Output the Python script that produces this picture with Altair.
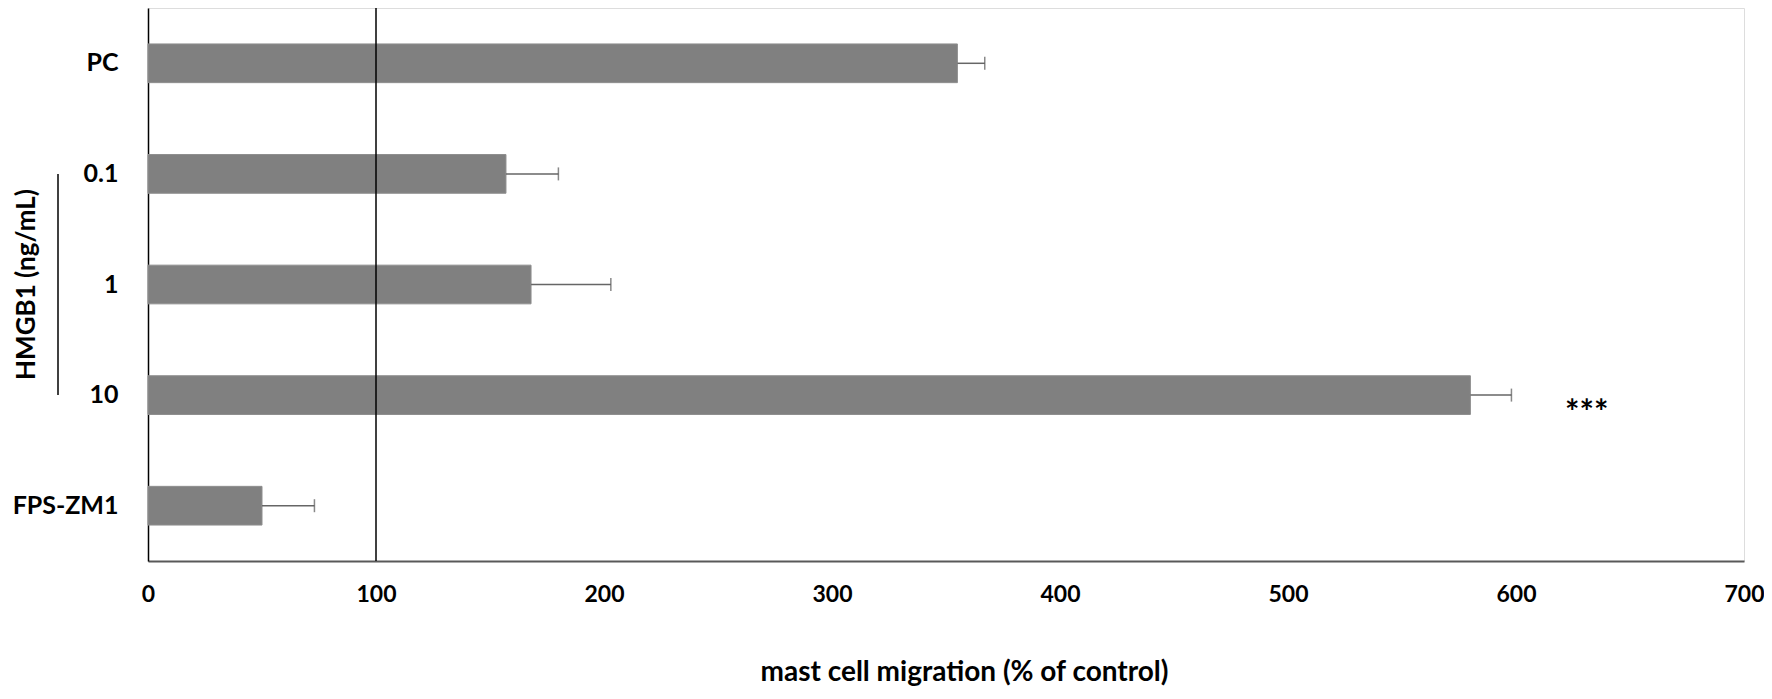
import altair as alt
import pandas as pd

categories = ["PC", "0.1", "1", "10", "FPS-ZM1"]
values = [355, 157, 168, 580, 50]
errors = [12, 23, 35, 18, 23]

star_category = ["10"]
star_position = [631]
star_label = ["***"]

group_title = "HMGB1 (ng/mL)"
group_start = "0.1"
group_end = "10"
group_center = "1"
reference_value = [100]

x_ticks = [0, 100, 200, 300, 400, 500, 600, 700]

FONT = "Lato"

df = pd.DataFrame({"cat": categories, "value": values, "err": errors})
df["upper"] = df["value"] + df["err"]

ydef = alt.Y(
    "cat:N",
    sort=categories,
    scale=alt.Scale(domain=categories, paddingInner=0.65, paddingOuter=0.325),
    axis=alt.Axis(
        title=None,
        labelFont=FONT,
        labelFontSize=25,
        labelFontWeight="bold",
        labelColor="#000000",
        labelPadding=30,
        ticks=False,
        domainColor="#000000",
        domainWidth=1.5,
        grid=False,
    ),
)

xdef = alt.X(
    "value:Q",
    scale=alt.Scale(domain=[0, 700], nice=False),
    axis=alt.Axis(
        title="mast cell migration (% of control)",
        values=x_ticks,
        labelFont=FONT,
        labelFontSize=23,
        labelFontWeight="bold",
        labelColor="#000000",
        labelPadding=22,
        ticks=False,
        grid=False,
        domainColor="#595959",
        domainWidth=2,
        titleFont=FONT,
        titleFontSize=28,
        titleFontWeight="bold",
        titleColor="#000000",
        titleBaseline="alphabetic",
        titleY=119,
        titleX=816,
        titleAlign="center",
        labelFlush=False,
    ),
)

base = alt.Chart(df)

bars = base.mark_bar(color="#808080", stroke="#8e8e8e", strokeWidth=1).encode(
    y=ydef, x=xdef
)

err_rule = base.mark_rule(color="#666666", strokeWidth=1.5).encode(
    y=alt.Y("cat:N", sort=categories),
    x=alt.X("value:Q"),
    x2="upper:Q",
)

err_cap = base.mark_tick(
    color="#555555", orient="vertical", size=13, thickness=1.5
).encode(y=alt.Y("cat:N", sort=categories), x=alt.X("upper:Q"))

ref = alt.Chart(pd.DataFrame({"ref": reference_value})).mark_rule(
    color="#000000", strokeWidth=1.5
).encode(x=alt.X("ref:Q"))

stars = alt.Chart(
    pd.DataFrame({"cat": star_category, "pos": star_position, "label": star_label})
).mark_text(
    font=FONT, fontSize=34, fontWeight="bold", color="#000000",
    baseline="alphabetic", align="center", dy=29,
).encode(y=alt.Y("cat:N", sort=categories), x=alt.X("pos:Q"), text="label:N")

bracket = alt.Chart(
    pd.DataFrame({"a": [group_start], "b": [group_end]})
).mark_rule(color="#000000", strokeWidth=1.5).encode(
    y=alt.Y("a:N", sort=categories),
    y2="b:N",
    x=alt.value(-90),
)

group_text = alt.Chart(
    pd.DataFrame({"cat": [group_center], "label": [group_title]})
).mark_text(
    font=FONT, fontSize=26, fontWeight="bold", color="#000000",
    angle=270, align="center", baseline="middle",
).encode(y=alt.Y("cat:N", sort=categories), x=alt.value(-121), text="label:N")

chart = alt.layer(bars, err_rule, err_cap, ref, stars, bracket, group_text).properties(
    width=1596,
    height=553,
    padding={"left": 140, "top": 0, "right": 20, "bottom": 130},
    autosize=alt.AutoSizeParams(type="none"),
).configure_view(stroke=None).configure(background="#ffffff")

chart.save("out.html", embed_options={"renderer": "svg", "actions": False})
